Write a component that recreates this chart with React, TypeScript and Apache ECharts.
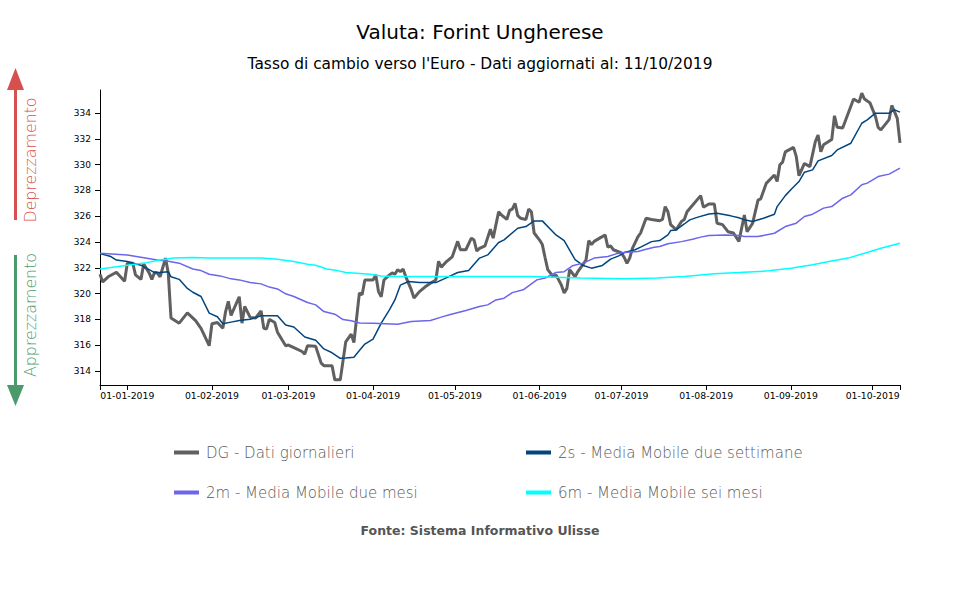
import React, { useEffect, useRef } from "react";
import * as echarts from "echarts";

const chartTitle = "Valuta: Forint Ungherese";
const chartSubtitle = "Tasso di cambio verso l'Euro - Dati aggiornati al: 11/10/2019";
const sourceText = "Fonte: Sistema Informativo Ulisse";
const upLabel = "Deprezzamento";
const downLabel = "Apprezzamento";

const seriesNames = [
  "DG - Dati giornalieri",
  "2s - Media Mobile due settimane",
  "2m - Media Mobile due mesi",
  "6m - Media Mobile sei mesi",
];

const xStart = "2018-12-22";
const xEnd = "2019-10-11";
const xTickLabels = [
  "01-01-2019", "01-02-2019", "01-03-2019", "01-04-2019", "01-05-2019",
  "01-06-2019", "01-07-2019", "01-08-2019", "01-09-2019", "01-10-2019",
];
const yMin = 312.9;
const yMax = 335.8;
const yTicks = [314, 316, 318, 320, 322, 324, 326, 328, 330, 332, 334];

const dgData: [string, number][] = [
  ["2018-12-22", 321.5], ["2018-12-23", 320.9], ["2018-12-25", 321.3], ["2018-12-28", 321.65],
  ["2018-12-31", 320.95], ["2019-01-01", 322.35], ["2019-01-03", 322.35], ["2019-01-04", 321.45],
  ["2019-01-06", 321.1], ["2019-01-07", 322.3], ["2019-01-09", 321.6], ["2019-01-10", 321.1],
  ["2019-01-11", 321.65], ["2019-01-12", 321.6], ["2019-01-13", 321.3], ["2019-01-15", 322.75],
  ["2019-01-16", 321.6], ["2019-01-17", 318.1], ["2019-01-20", 317.7], ["2019-01-23", 318.5],
  ["2019-01-26", 317.9], ["2019-01-28", 317.3], ["2019-01-31", 315.95], ["2019-02-01", 317.65],
  ["2019-02-03", 317.75], ["2019-02-05", 317.3], ["2019-02-06", 318.6], ["2019-02-07", 319.4],
  ["2019-02-08", 318.3], ["2019-02-11", 319.75], ["2019-02-12", 317.7], ["2019-02-13", 319.0],
  ["2019-02-15", 318.15], ["2019-02-17", 318.1], ["2019-02-19", 318.65], ["2019-02-20", 317.3],
  ["2019-02-21", 317.25], ["2019-02-22", 318.0], ["2019-02-24", 317.75], ["2019-02-25", 317.0],
  ["2019-02-28", 315.95], ["2019-03-01", 316.0], ["2019-03-03", 315.8], ["2019-03-06", 315.5],
  ["2019-03-07", 315.3], ["2019-03-08", 315.95], ["2019-03-11", 315.9], ["2019-03-13", 314.6],
  ["2019-03-14", 314.4], ["2019-03-17", 314.4], ["2019-03-18", 313.3], ["2019-03-20", 313.3],
  ["2019-03-22", 316.25], ["2019-03-24", 316.85], ["2019-03-25", 316.2], ["2019-03-27", 320.05],
  ["2019-03-28", 319.9], ["2019-03-29", 321.05], ["2019-04-01", 321.05], ["2019-04-02", 321.45],
  ["2019-04-03", 320.15], ["2019-04-04", 319.75], ["2019-04-05", 321.05], ["2019-04-07", 321.45],
  ["2019-04-08", 321.6], ["2019-04-09", 321.5], ["2019-04-10", 321.85], ["2019-04-11", 321.7],
  ["2019-04-12", 321.9], ["2019-04-13", 321.3], ["2019-04-15", 320.3], ["2019-04-16", 319.65],
  ["2019-04-18", 320.15], ["2019-04-20", 320.5], ["2019-04-22", 320.8], ["2019-04-24", 321.05],
  ["2019-04-25", 322.5], ["2019-04-26", 322.05], ["2019-04-28", 322.5], ["2019-04-30", 322.85],
  ["2019-05-02", 324.05], ["2019-05-03", 323.4], ["2019-05-05", 323.4], ["2019-05-07", 324.3],
  ["2019-05-08", 324.15], ["2019-05-09", 323.3], ["2019-05-10", 323.5], ["2019-05-12", 323.7],
  ["2019-05-14", 325.0], ["2019-05-15", 324.3], ["2019-05-17", 326.35], ["2019-05-18", 326.1],
  ["2019-05-20", 325.75], ["2019-05-21", 326.45], ["2019-05-22", 326.55], ["2019-05-23", 327.0],
  ["2019-05-24", 326.05], ["2019-05-25", 325.85], ["2019-05-27", 325.75], ["2019-05-28", 326.55],
  ["2019-05-29", 326.35], ["2019-05-30", 324.7], ["2019-06-01", 324.15], ["2019-06-02", 323.8],
  ["2019-06-03", 322.8], ["2019-06-04", 321.85], ["2019-06-06", 321.3], ["2019-06-07", 321.45],
  ["2019-06-09", 320.65], ["2019-06-10", 320.05], ["2019-06-11", 320.4], ["2019-06-12", 321.85],
  ["2019-06-14", 321.3], ["2019-06-15", 321.7], ["2019-06-16", 322.0], ["2019-06-18", 322.6],
  ["2019-06-19", 324.1], ["2019-06-20", 323.8], ["2019-06-21", 324.05], ["2019-06-23", 324.3],
  ["2019-06-25", 324.55], ["2019-06-26", 323.6], ["2019-06-27", 323.7], ["2019-06-28", 323.4],
  ["2019-07-01", 323.15], ["2019-07-02", 322.8], ["2019-07-03", 322.35], ["2019-07-04", 322.75],
  ["2019-07-05", 323.5], ["2019-07-07", 324.4], ["2019-07-08", 324.7], ["2019-07-10", 325.85],
  ["2019-07-12", 325.75], ["2019-07-15", 325.65], ["2019-07-16", 325.75], ["2019-07-17", 326.75],
  ["2019-07-18", 326.35], ["2019-07-19", 325.35], ["2019-07-20", 325.15], ["2019-07-21", 324.95],
  ["2019-07-23", 325.6], ["2019-07-24", 325.75], ["2019-07-25", 326.35], ["2019-07-26", 326.6],
  ["2019-07-30", 327.6], ["2019-07-31", 326.7], ["2019-08-02", 326.95], ["2019-08-04", 326.95],
  ["2019-08-05", 325.45], ["2019-08-07", 325.35], ["2019-08-09", 324.8], ["2019-08-11", 324.7],
  ["2019-08-13", 324.05], ["2019-08-15", 326.1], ["2019-08-16", 324.8], ["2019-08-18", 325.45],
  ["2019-08-20", 327.25], ["2019-08-21", 327.35], ["2019-08-23", 328.55], ["2019-08-26", 329.2],
  ["2019-08-27", 328.7], ["2019-08-28", 330.0], ["2019-08-29", 330.2], ["2019-08-30", 331.0],
  ["2019-09-02", 331.35], ["2019-09-03", 330.65], ["2019-09-04", 329.15], ["2019-09-06", 330.1],
  ["2019-09-08", 329.85], ["2019-09-10", 331.8], ["2019-09-11", 332.3], ["2019-09-12", 331.0],
  ["2019-09-13", 331.55], ["2019-09-16", 331.95], ["2019-09-17", 333.8], ["2019-09-18", 332.9],
  ["2019-09-20", 332.85], ["2019-09-24", 335.1], ["2019-09-26", 334.85], ["2019-09-27", 335.55],
  ["2019-09-28", 335.1], ["2019-09-30", 334.8], ["2019-10-02", 333.75], ["2019-10-03", 332.9],
  ["2019-10-04", 332.7], ["2019-10-07", 333.5], ["2019-10-08", 334.6], ["2019-10-10", 333.6],
  ["2019-10-11", 331.7],
];

const ma2sData: [string, number][] = [
  ["2018-12-22", 323.1], ["2018-12-26", 322.87], ["2018-12-28", 322.6], ["2019-01-01", 322.48],
  ["2019-01-06", 322.2], ["2019-01-08", 321.97], ["2019-01-11", 321.63], ["2019-01-13", 321.63],
  ["2019-01-16", 321.7], ["2019-01-17", 321.3], ["2019-01-20", 321.1], ["2019-01-23", 320.4],
  ["2019-01-25", 320.1], ["2019-01-28", 319.77], ["2019-01-31", 318.48], ["2019-02-03", 318.2],
  ["2019-02-05", 317.65], ["2019-02-08", 317.78], ["2019-02-11", 317.9], ["2019-02-15", 318.0],
  ["2019-02-19", 318.27], ["2019-02-25", 318.27], ["2019-02-28", 317.55], ["2019-03-03", 317.4],
  ["2019-03-07", 316.63], ["2019-03-11", 316.38], ["2019-03-14", 315.7], ["2019-03-17", 315.4],
  ["2019-03-20", 314.97], ["2019-03-22", 314.99], ["2019-03-25", 315.06], ["2019-03-27", 315.58],
  ["2019-03-29", 316.08], ["2019-04-01", 316.46], ["2019-04-04", 317.7], ["2019-04-07", 318.73],
  ["2019-04-09", 319.5], ["2019-04-11", 320.65], ["2019-04-14", 320.93], ["2019-04-18", 320.85],
  ["2019-04-24", 320.85], ["2019-04-27", 321.14], ["2019-05-02", 321.63], ["2019-05-06", 321.79],
  ["2019-05-10", 322.75], ["2019-05-13", 323.0], ["2019-05-17", 323.96], ["2019-05-19", 324.17],
  ["2019-05-24", 325.07], ["2019-05-27", 325.2], ["2019-05-30", 325.64], ["2019-06-02", 325.64],
  ["2019-06-07", 324.55], ["2019-06-10", 324.11], ["2019-06-14", 322.63], ["2019-06-17", 322.17],
  ["2019-06-20", 321.97], ["2019-06-24", 322.18], ["2019-06-27", 322.67], ["2019-06-30", 322.92],
  ["2019-07-02", 323.18], ["2019-07-06", 323.4], ["2019-07-08", 323.6], ["2019-07-12", 324.03],
  ["2019-07-15", 324.11], ["2019-07-18", 324.55], ["2019-07-19", 324.89], ["2019-07-21", 324.94],
  ["2019-07-24", 325.4], ["2019-07-26", 325.72], ["2019-07-29", 325.93], ["2019-08-02", 326.18],
  ["2019-08-05", 326.24], ["2019-08-10", 326.03], ["2019-08-13", 325.88], ["2019-08-15", 325.72],
  ["2019-08-18", 325.59], ["2019-08-22", 325.85], ["2019-08-26", 326.16], ["2019-08-27", 326.75],
  ["2019-08-30", 327.6], ["2019-09-01", 328.05], ["2019-09-04", 328.69], ["2019-09-06", 329.42],
  ["2019-09-09", 329.6], ["2019-09-11", 330.3], ["2019-09-16", 330.71], ["2019-09-18", 331.15],
  ["2019-09-23", 331.67], ["2019-09-27", 333.22], ["2019-09-29", 333.48], ["2019-10-02", 334.0],
  ["2019-10-07", 334.0], ["2019-10-09", 334.26], ["2019-10-11", 334.08],
];

const ma2mData: [string, number][] = [
  ["2018-12-22", 323.13], ["2019-01-01", 323.0], ["2019-01-12", 322.6], ["2019-01-16", 322.5],
  ["2019-01-20", 322.36], ["2019-01-25", 321.9], ["2019-01-28", 321.78], ["2019-01-31", 321.5],
  ["2019-02-04", 321.37], ["2019-02-08", 321.14], ["2019-02-11", 321.06], ["2019-02-15", 320.85],
  ["2019-02-19", 320.75], ["2019-02-22", 320.5], ["2019-02-25", 320.36], ["2019-02-28", 319.98],
  ["2019-03-03", 319.77], ["2019-03-08", 319.3], ["2019-03-11", 319.12], ["2019-03-14", 318.6],
  ["2019-03-18", 318.4], ["2019-03-21", 317.98], ["2019-03-24", 317.88], ["2019-03-27", 317.72],
  ["2019-04-01", 317.7], ["2019-04-10", 317.62], ["2019-04-15", 317.83], ["2019-04-22", 317.9],
  ["2019-04-26", 318.17], ["2019-04-29", 318.35], ["2019-05-05", 318.68], ["2019-05-10", 318.99],
  ["2019-05-13", 319.12], ["2019-05-16", 319.5], ["2019-05-19", 319.64], ["2019-05-22", 320.07],
  ["2019-05-26", 320.29], ["2019-05-31", 321.06], ["2019-06-03", 321.2], ["2019-06-07", 321.63],
  ["2019-06-10", 321.7], ["2019-06-13", 322.15], ["2019-06-17", 322.36], ["2019-06-21", 322.75],
  ["2019-06-26", 322.87], ["2019-06-29", 323.08], ["2019-07-02", 323.18], ["2019-07-07", 323.26],
  ["2019-07-10", 323.44], ["2019-07-13", 323.6], ["2019-07-15", 323.65], ["2019-07-18", 323.86],
  ["2019-07-23", 324.03], ["2019-07-27", 324.22], ["2019-07-30", 324.38], ["2019-08-02", 324.5],
  ["2019-08-08", 324.55], ["2019-08-13", 324.5], ["2019-08-15", 324.42], ["2019-08-20", 324.42],
  ["2019-08-26", 324.68], ["2019-08-30", 325.2], ["2019-09-03", 325.46], ["2019-09-06", 325.98],
  ["2019-09-09", 326.16], ["2019-09-13", 326.63], ["2019-09-16", 326.75], ["2019-09-20", 327.4],
  ["2019-09-23", 327.66], ["2019-09-27", 328.44], ["2019-09-29", 328.57], ["2019-10-03", 329.08],
  ["2019-10-07", 329.27], ["2019-10-11", 329.73],
];

const ma6mData: [string, number][] = [
  ["2018-12-22", 321.91], ["2019-01-01", 322.2], ["2019-01-08", 322.4], ["2019-01-13", 322.6],
  ["2019-01-18", 322.75], ["2019-01-25", 322.8], ["2019-01-31", 322.75], ["2019-02-19", 322.75],
  ["2019-02-25", 322.67], ["2019-03-03", 322.48], ["2019-03-08", 322.28], ["2019-03-11", 322.2],
  ["2019-03-15", 321.91], ["2019-03-19", 321.78], ["2019-03-22", 321.63], ["2019-03-31", 321.5],
  ["2019-04-04", 321.37], ["2019-04-10", 321.32], ["2019-05-04", 321.32], ["2019-05-29", 321.32],
  ["2019-06-16", 321.2], ["2019-07-02", 321.14], ["2019-07-14", 321.2], ["2019-07-24", 321.32],
  ["2019-08-04", 321.53], ["2019-08-13", 321.63], ["2019-08-24", 321.76], ["2019-09-01", 321.97],
  ["2019-09-09", 322.23], ["2019-09-15", 322.48], ["2019-09-22", 322.75], ["2019-09-28", 323.13],
  ["2019-10-04", 323.52], ["2019-10-11", 323.9],
];

const seriesData = [dgData, ma2sData, ma2mData, ma6mData];
const seriesColors = ["#606060", "#00457f", "#6b66ea", "#00ffff"];
const seriesWidths = [3, 1.5, 1.5, 1.5];

const FONT = "DejaVu Sans";

function isoToTime(s: string): number {
  const [y, m, d] = s.split("-").map(Number);
  return Date.UTC(y, m - 1, d);
}
function labelToTime(s: string): number {
  const [d, m, y] = s.split("-").map(Number);
  return Date.UTC(y, m - 1, d);
}

export default function App() {
  const ref = useRef<HTMLDivElement>(null);

  useEffect(() => {
    if (!ref.current) return;
    const chart = echarts.init(ref.current, undefined, { renderer: "svg" });

    const xMin = isoToTime(xStart);
    const xMax = isoToTime(xEnd);
    const xLabelValues = xTickLabels.map(labelToTime);
    const labelMap = new Map<number, string>();
    xTickLabels.forEach((l, i) => labelMap.set(xLabelValues[i], l));

    const legendText = {
      fontFamily: FONT,
      fontSize: 15,
      fontWeight: 200,
      color: "#5a5a5a",
      padding: [0, 0, 0, 2],
    };

    const option: any = {
      animation: false,
      backgroundColor: "#ffffff",
      textStyle: { fontFamily: FONT },
      title: [
        {
          text: chartTitle,
          left: "center",
          top: 22,
          padding: 0,
          textStyle: { fontFamily: FONT, fontSize: 20, fontWeight: "normal", color: "#000" },
        },
        {
          text: chartSubtitle,
          left: "center",
          top: 56,
          padding: 0,
          textStyle: { fontFamily: FONT, fontSize: 15.4, fontWeight: "normal", color: "#000" },
        },
        {
          text: sourceText,
          left: "center",
          top: 524,
          padding: 0,
          textStyle: { fontFamily: FONT, fontSize: 12.5, fontWeight: "bold", color: "#555" },
        },
      ],
      legend: [
        {
          data: [seriesNames[0], seriesNames[2]],
          left: 174,
          top: 445,
          orient: "vertical",
          itemGap: 25,
          itemWidth: 25,
          itemHeight: 4,
          icon: "rect",
          selectedMode: false,
          padding: 0,
          textStyle: legendText,
        },
        {
          data: [seriesNames[1], seriesNames[3]],
          left: 526,
          top: 445,
          orient: "vertical",
          itemGap: 25,
          itemWidth: 25,
          itemHeight: 4,
          icon: "rect",
          selectedMode: false,
          padding: 0,
          textStyle: legendText,
        },
      ],
      grid: { left: 100, right: 60, top: 90, bottom: 215, outerBoundsMode: "none" },
      xAxis: {
        type: "value",
        min: xMin,
        max: xMax,
        axisLine: { show: true, lineStyle: { color: "#000", width: 1 } },
        axisTick: {
          show: true,
          length: 5,
          customValues: [xMin, ...xLabelValues, xMax],
          lineStyle: { color: "#000" },
        },
        axisLabel: {
          customValues: xLabelValues,
          formatter: (v: number) => labelMap.get(v) ?? "",
          fontFamily: FONT,
          fontSize: 9.3,
          color: "#000",
          margin: 6,
          hideOverlap: false,
        },
        splitLine: { show: false },
      },
      yAxis: {
        type: "value",
        min: yMin,
        max: yMax,
        axisLine: { show: true, lineStyle: { color: "#000", width: 1 } },
        axisTick: { show: true, length: 5, customValues: yTicks, lineStyle: { color: "#000" } },
        axisLabel: {
          customValues: yTicks,
          fontFamily: FONT,
          fontSize: 9,
          color: "#000",
          margin: 9,
        },
        splitLine: { show: false },
      },
      series: seriesNames.map((name, i) => ({
        name,
        type: "line",
        data: seriesData[i].map(([d, v]) => [isoToTime(d), v]),
        showSymbol: false,
        symbol: "none",
        color: seriesColors[i],
        lineStyle: { color: seriesColors[i], width: seriesWidths[i] },
        z: 2 + i,
      })),
      graphic: [
        {
          type: "polygon",
          shape: { points: [[7, 90], [24, 90], [15.5, 68]] },
          style: { fill: "#d75050" },
        },
        {
          type: "rect",
          shape: { x: 14, y: 89, width: 3, height: 131 },
          style: { fill: "#d75050" },
        },
        {
          type: "text",
          x: 30,
          y: 160,
          rotation: Math.PI / 2,
          style: {
            text: upLabel,
            fontFamily: FONT,
            fontSize: 15.8,
            fontWeight: 200,
            fill: "#d75050",
            align: "center",
            verticalAlign: "middle",
          },
        },
        {
          type: "rect",
          shape: { x: 14, y: 255, width: 3, height: 131 },
          style: { fill: "#4a9a6c" },
        },
        {
          type: "polygon",
          shape: { points: [[7, 385], [24, 385], [15.5, 406]] },
          style: { fill: "#4a9a6c" },
        },
        {
          type: "text",
          x: 30,
          y: 315,
          rotation: Math.PI / 2,
          style: {
            text: downLabel,
            fontFamily: FONT,
            fontSize: 15.8,
            fontWeight: 200,
            fill: "#4a9a6c",
            align: "center",
            verticalAlign: "middle",
          },
        },
      ],
    };

    chart.setOption(option);
    return () => chart.dispose();
  }, []);

  return (
    <div
      ref={ref}
      style={{ position: "fixed", left: 0, top: 0, width: 960, height: 600, background: "#fff" }}
    />
  );
}
